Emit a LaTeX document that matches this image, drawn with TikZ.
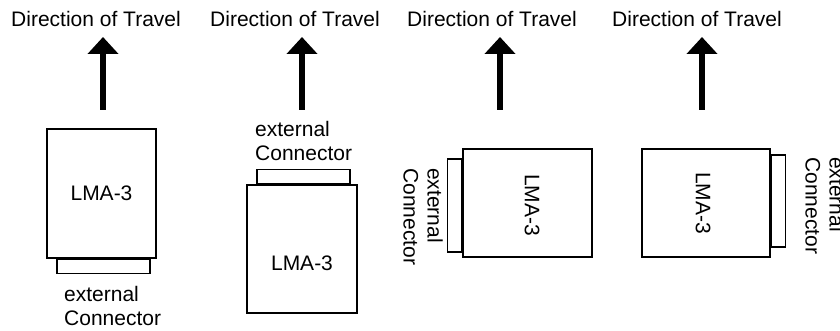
\documentclass[tikz,border=0pt]{standalone}
\usepackage{fontspec}
\setmainfont{Liberation Sans}
\usetikzlibrary{arrows.meta,positioning}

\begin{document}
\begin{tikzpicture}[x=1pt,y=-1pt,
    lbl/.style={font=\fontsize{21}{24}\selectfont, inner sep=0pt},
    unit/.style={draw, line width=1.5pt, inner sep=0pt},
    travel/.style={line width=6pt, -{Triangle[width=30pt,length=17pt]}}]
  \useasboundingbox (0,0) rectangle (840,331);
  % heading and arrow over each case
  \foreach \tx/\ax [count=\i] in {96/103,295/302,492/500,697/702}{
    \node[lbl, anchor=base] (dir\i) at (\tx,27) {Direction of Travel};
    \coordinate (tail\i) at (\ax,110);
    \coordinate (tip\i) at (\ax,37);
    \draw[travel] (tail\i) -- (tip\i);
  }
  % case 1: connector at the back
  \node[unit, minimum width=109pt, minimum height=129pt] (u1) at (101.5,193.5) {};
  \node[lbl] (n1) at (u1) {LMA-3};
  \node[unit, minimum width=93pt, minimum height=14pt, anchor=north] (c1) at ([xshift=2pt]u1.south) {};
  \node[lbl, align=left, anchor=north west] (e1) at (64,286) {external\\Connector};
  % case 2: connector at the front
  \node[unit, minimum width=110pt, minimum height=128pt] (u2) at (302,249) {};
  \node[lbl] (n2) at (302,263) {LMA-3};
  \node[unit, minimum width=93pt, minimum height=14pt, anchor=south] (c2) at ([xshift=1.5pt]u2.north) {};
  \node[lbl, align=left, anchor=north west] (e2) at (255,121) {external\\Connector};
  % case 3: connector on the left
  \node[unit, minimum width=129pt, minimum height=108pt] (u3) at (527.5,203) {};
  \node[lbl, rotate=-90] (n3) at (532,205) {LMA-3};
  \node[unit, minimum width=14pt, minimum height=93pt, anchor=east] (c3) at ([yshift=-2.5pt]u3.west) {};
  \node[lbl, rotate=-90, align=left, anchor=north west] (e3) at (443,168) {external\\Connector};
  % case 4: connector on the right
  \node[unit, minimum width=128pt, minimum height=108pt] (u4) at (706,203) {};
  \node[lbl, rotate=-90] (n4) at (703,203) {LMA-3};
  \node[unit, minimum width=14pt, minimum height=92pt, anchor=west] (c4) at ([yshift=2pt]u4.east) {};
  \node[lbl, rotate=-90, align=left, anchor=north west] (e4) at (845,157) {external\\Connector};
\end{tikzpicture}
\end{document}
